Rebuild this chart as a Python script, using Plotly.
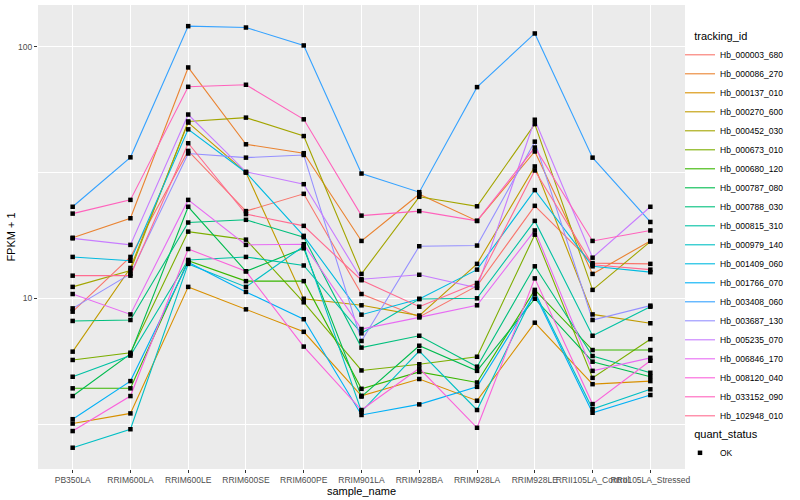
import plotly.graph_objects as go

samples = ["PB350LA", "RRIM600LA", "RRIM600LE", "RRIM600SE", "RRIM600PE", "RRIM901LA",
           "RRIM928BA", "RRIM928LA", "RRIM928LE", "RRII105LA_Control", "RRII105LA_Stressed"]

hb_000003_680 = [8.85, 14.6, 38.5, 22.2, 26.0, 10.4, 8.43, 11.2, 23.3, 13.8, 13.7]
hb_000086_270 = [17.4, 20.8, 82.6, 40.9, 37.7, 16.9, 25.9, 20.3, 38.3, 12.5, 16.9]
hb_000137_010 = [3.18, 3.49, 11.1, 9.04, 7.36, 4.10, 4.78, 3.92, 8.0, 4.56, 4.69]
hb_000270_600 = [6.14, 13.2, 49.9, 31.6, 9.96, 9.38, 8.54, 13.7, 33.4, 8.63, 7.96]
hb_000452_030 = [11.1, 12.9, 50.4, 52.2, 44.1, 12.5, 25.3, 23.2, 49.2, 10.8, 16.8]
hb_000673_010 = [5.69, 6.08, 18.4, 17.1, 9.64, 5.17, 5.47, 5.86, 17.9, 4.83, 6.88]
hb_000680_120 = [4.39, 4.39, 14.1, 11.7, 11.7, 4.37, 5.1, 4.63, 10.8, 6.23, 6.23]
hb_000787_080 = [4.09, 6.01, 23.1, 12.8, 15.8, 4.07, 6.48, 5.15, 9.96, 5.60, 4.88]
hb_000788_030 = [8.13, 8.2, 20.0, 20.5, 17.5, 6.37, 7.10, 5.35, 13.4, 5.90, 5.06]
hb_000815_310 = [4.88, 5.92, 14.2, 14.6, 13.5, 7.26, 9.94, 10.0, 20.3, 7.10, 9.26]
hb_000979_140 = [2.55, 3.02, 13.7, 11.1, 16.1, 3.55, 6.17, 3.60, 10.6, 3.63, 4.35]
hb_001409_060 = [14.6, 14.1, 46.9, 31.6, 17.7, 8.61, 9.94, 13.0, 26.9, 13.4, 12.7]
hb_001766_070 = [3.31, 4.69, 13.9, 10.6, 8.26, 3.44, 3.79, 4.45, 10.4, 3.51, 4.13]
hb_003408_060 = [23.1, 36.3, 120.5, 119.0, 101.0, 31.3, 26.4, 69.0, 112.7, 36.2, 20.1]
hb_003687_130 = [9.12, 12.5, 37.6, 36.2, 37.1, 6.77, 16.1, 16.2, 41.9, 8.20, 9.35]
hb_005235_070 = [17.3, 16.3, 53.7, 31.8, 28.4, 11.9, 12.4, 11.0, 51.2, 14.5, 23.1]
hb_006846_170 = [10.4, 8.63, 24.6, 16.3, 16.4, 7.55, 8.40, 9.38, 18.6, 5.15, 5.80]
hb_008120_040 = [2.97, 4.09, 15.7, 12.8, 6.43, 3.60, 5.27, 3.06, 12.0, 3.80, 5.65]
hb_033152_090 = [21.7, 24.6, 69.2, 70.5, 51.4, 21.3, 22.2, 20.3, 39.7, 16.9, 18.6]
hb_102948_010 = [12.3, 12.3, 41.3, 21.6, 19.4, 11.8, 9.26, 11.5, 32.2, 13.6, 13.0]

tracking_ids = ["Hb_000003_680", "Hb_000086_270", "Hb_000137_010", "Hb_000270_600",
                "Hb_000452_030", "Hb_000673_010", "Hb_000680_120", "Hb_000787_080",
                "Hb_000788_030", "Hb_000815_310", "Hb_000979_140", "Hb_001409_060",
                "Hb_001766_070", "Hb_003408_060", "Hb_003687_130", "Hb_005235_070",
                "Hb_006846_170", "Hb_008120_040", "Hb_033152_090", "Hb_102948_010"]

colors = ["#F8766D", "#EA8331", "#D89000", "#C09B00", "#A3A500", "#7CAE00", "#39B600",
          "#00BB4E", "#00BF7D", "#00C1A3", "#00BFC4", "#00BAE0", "#00B0F6", "#35A2FF",
          "#9590FF", "#C77CFF", "#E76BF3", "#FA62DB", "#FF62BC", "#FF6C91"]

series = [hb_000003_680, hb_000086_270, hb_000137_010, hb_000270_600, hb_000452_030,
          hb_000673_010, hb_000680_120, hb_000787_080, hb_000788_030, hb_000815_310,
          hb_000979_140, hb_001409_060, hb_001766_070, hb_003408_060, hb_003687_130,
          hb_005235_070, hb_006846_170, hb_008120_040, hb_033152_090, hb_102948_010]

quant_status = "OK"
pad = "\u00a0" * 4

fig = go.Figure()
for name, vals, col in zip(tracking_ids, series, colors):
    fig.add_trace(go.Scatter(x=samples, y=vals, mode="lines", name=name,
                             line=dict(color=col, width=1.1), legend="legend"))

all_x, all_y = [], []
for vals in series:
    all_x += samples
    all_y += vals
fig.add_trace(go.Scatter(x=all_x, y=all_y, mode="markers", name=quant_status,
                         marker=dict(color="black", symbol="square", size=4.5),
                         legend="legend2"))

fig.update_layout(
    width=800, height=500,
    margin=dict(l=38, r=115, t=5, b=31, autoexpand=False),
    paper_bgcolor="white", plot_bgcolor="#EBEBEB",
    font=dict(family="Liberation Sans, Arial, sans-serif", color="black"),
    showlegend=True,
    legend=dict(title=dict(text=pad + "tracking_id", font=dict(size=11)),
                font=dict(size=8.5), xref="container", yref="container",
                x=0.85, xanchor="left", y=0.948, yanchor="top", maxheight=420,
                itemwidth=30, tracegroupgap=0, bgcolor="rgba(0,0,0,0)"),
    legend2=dict(title=dict(text=pad + "quant_status", font=dict(size=11)),
                 font=dict(size=8.5), xref="container", yref="container",
                 x=0.85, xanchor="left", y=0.152, yanchor="top",
                 itemwidth=30, bgcolor="rgba(0,0,0,0)"),
)
fig.update_xaxes(type="category", categoryorder="array", categoryarray=samples,
                 showgrid=True, gridcolor="white", gridwidth=1.1,
                 ticks="outside", ticklen=3, tickcolor="#333333", tickangle=0,
                 tickfont=dict(size=8.5, color="#4D4D4D"), automargin=False,
                 title=dict(text="sample_name", font=dict(size=11), standoff=0),
                 zeroline=False, showline=False, range=[-0.6, 10.6])
fig.update_yaxes(type="log", range=[0.322, 2.165],
                 tickvals=[10, 100], ticktext=["10", "100"],
                 showgrid=True, gridcolor="white", gridwidth=1.1,
                 minor=dict(tickvals=[3.1623, 31.623], showgrid=True,
                            gridcolor="white", gridwidth=0.5, ticks=""),
                 ticks="outside", ticklen=3, tickcolor="#333333",
                 tickfont=dict(size=8.5, color="#4D4D4D"), automargin=False,
                 title=dict(text="FPKM + 1", font=dict(size=11), standoff=0),
                 zeroline=False, showline=False)

fig.write_html("out.html", config={"displayModeBar": False},
               post_script="document.body.style.margin='0px';")
